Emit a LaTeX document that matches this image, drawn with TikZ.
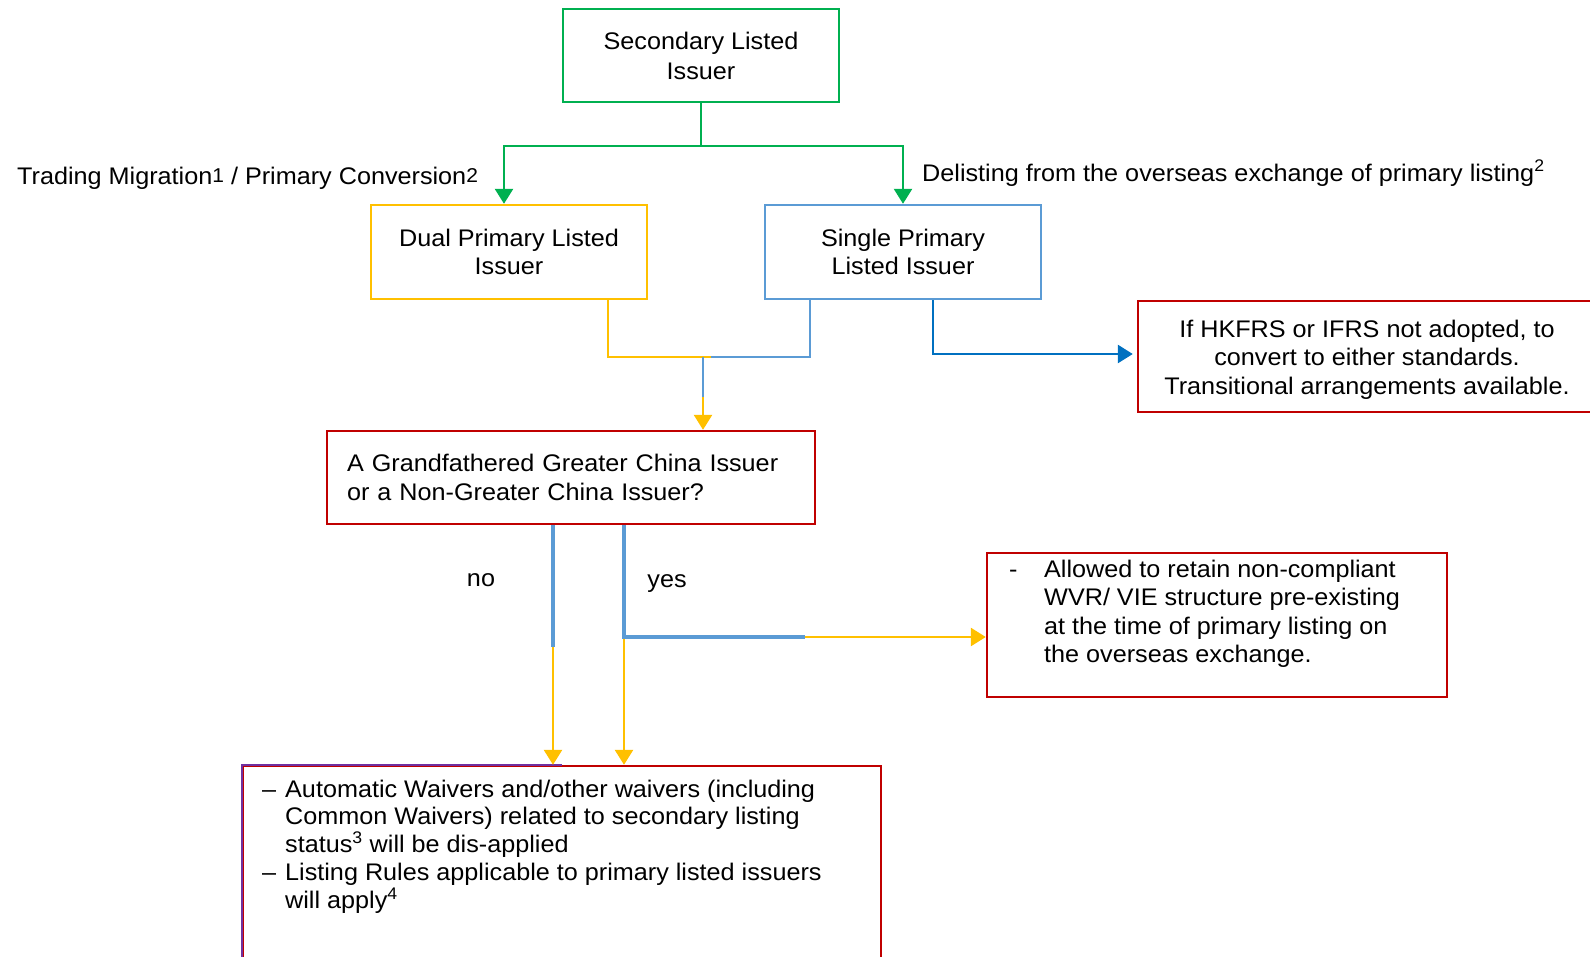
\documentclass[tikz,border=0pt]{standalone}
\usepackage{fontspec}
\setmainfont{Liberation Sans}[FakeStretch=1.05]
\usetikzlibrary{arrows.meta}

\definecolor{brgreen}{HTML}{00B050}
\definecolor{bryellow}{HTML}{FFC000}
\definecolor{ltblue}{HTML}{5B9BD5}
\definecolor{dkblue}{HTML}{0070C0}
\definecolor{brred}{HTML}{C00000}
\definecolor{brpurple}{HTML}{7030A0}

% small footnote digit sitting just above the baseline
\newcommand{\lownote}[1]{\raisebox{1.5pt}{\fontsize{20pt}{20pt}\selectfont #1}}

\tikzset{
  txt/.style={font=\fontsize{24pt}{28.5pt}\selectfont, inner sep=0pt},
  box/.style={draw, line width=2.4pt, txt, align=center},
  wire/.style={line width=2.6pt},
  thickwire/.style={line width=3.4pt},
  endarrow/.style={-{Triangle[width=18pt,length=15pt]}},
}

\begin{document}
\begin{tikzpicture}[x=1pt,y=-1pt]
\clip (0,0) rectangle (1590,956);

% boxes
\node[box, draw=brgreen, minimum width=276pt, minimum height=93pt,
      font=\fontsize{24pt}{30pt}\selectfont] (top) at (701,55.5) {Secondary Listed\\Issuer};
\node[box, draw=bryellow, minimum width=276pt, minimum height=94pt] (dual) at (509,252) {Dual Primary Listed\\Issuer};
\node[box, draw=ltblue, minimum width=276pt, minimum height=94pt] (single) at (903,252) {Single Primary\\Listed Issuer};
\node[box, draw=brred, minimum width=458pt, minimum height=111pt] (hk) at (1367,356.5)
  {\rule{0pt}{23pt}If HKFRS or IFRS not adopted, to\\convert to either standards.\\Transitional arrangements available.};
\node[box, draw=brred, minimum width=488pt, minimum height=93pt, text width=448pt, align=left] (question) at (571,477.5)
  {A Grandfathered Greater China Issuer\\or a Non-Greater China Issuer?};
\node[box, draw=brred, minimum width=460pt, minimum height=144pt] (allowed) at (1217,625) {};
\node[txt, align=left, anchor=north west] (allowedtext) at (1009,559.8)
  {\makebox[35pt][l]{-}Allowed to retain non-compliant\\
   \hspace*{35pt}WVR/ VIE structure pre-existing\\
   \hspace*{35pt}at the time of primary listing on\\
   \hspace*{35pt}the overseas exchange.};
\node[box, draw=brred, minimum width=638pt, minimum height=260pt] (rules) at (562,896) {};
\draw[line width=2.4pt, brpurple] (rules.north) -- (rules.north west) -- (rules.south west);
\node[txt, align=left, anchor=north west, font=\fontsize{24pt}{27.8pt}\selectfont] (rulestext) at (262,779.5)
  {\makebox[23pt][l]{–}Automatic Waivers and/other waivers (including\\
   \hspace*{23pt}Common Waivers) related to secondary listing\\
   \hspace*{23pt}status\textsuperscript{3} will be dis-applied\\
   \makebox[23pt][l]{–}Listing Rules applicable to primary listed issuers\\
   \hspace*{23pt}will apply\textsuperscript{4}};

% labels
\node[txt, anchor=base west] (migration) at (17,184) {Trading Migration\lownote{1} / Primary Conversion\lownote{2}};
\node[txt, anchor=base west] (delisting) at (922,181) {Delisting from the overseas exchange of primary listing\textsuperscript{2}};
\node[txt, anchor=base] (nolabel) at (481,586) {no};
\node[txt, anchor=base] (yeslabel) at (667,587) {yes};

% split below the secondary listed issuer
\coordinate (split) at (701,146);
\draw[brgreen, line width=1.2pt] (top.south) -- (split);
\draw[wire, brgreen, endarrow] (split) -| ([xshift=-5pt]dual.north);
\draw[wire, brgreen, endarrow] (split) -| (single.north);

% both primary routes merge into the question
\coordinate (mergeR) at (711,357);
\coordinate (merge) at (703,357);
\coordinate (mergedrop) at (703,397);
\draw[wire, bryellow] ([xshift=99pt]dual.south) |- (mergeR);
\draw[wire, ltblue] ([xshift=-93pt]single.south) |- (mergeR);
\draw[wire, ltblue] (merge) -- (mergedrop);
\draw[wire, bryellow, endarrow] (mergedrop) -- (mergedrop |- question.north);

% accounting standards branch
\draw[wire, dkblue, endarrow, shorten >=4pt] ([xshift=30pt]single.south) |- ([yshift=2.5pt]hk.west);

% "no" branch
\coordinate (nobend) at (553,647);
\draw[wire, bryellow, endarrow] (nobend) -- (nobend |- rules.north);
\draw[thickwire, ltblue] ([xshift=-18pt]question.south) -- (nobend);

% "yes" branch
\coordinate (yescorner) at (624,637);
\coordinate (yessplit) at (805,637);
\draw[wire, bryellow, endarrow] (yessplit) -- (yessplit -| allowed.west);
\draw[wire, bryellow, endarrow] (yescorner) -- (yescorner |- rules.north);
\draw[thickwire, ltblue] ([xshift=53pt]question.south) -- (yescorner) -- (yessplit);
\end{tikzpicture}
\end{document}
